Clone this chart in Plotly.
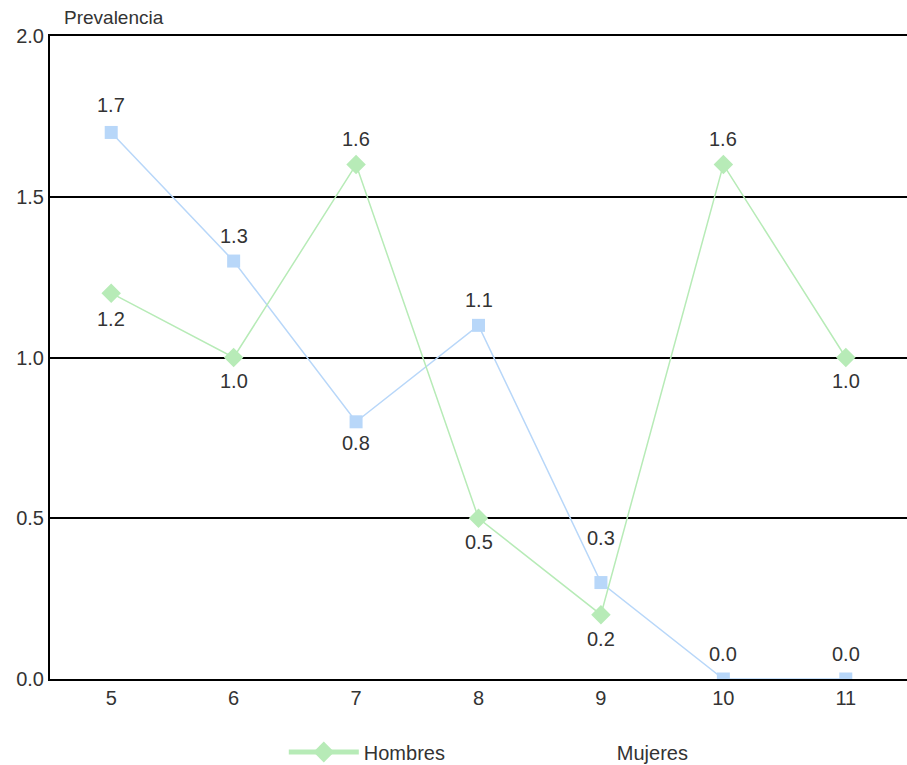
import plotly.graph_objects as go

ages = ["5", "6", "7", "8", "9", "10", "11"]
hombres = [1.2, 1.0, 1.6, 0.5, 0.2, 1.6, 1.0]
mujeres = [1.7, 1.3, 0.8, 1.1, 0.3, 0.0, 0.0]
# label offsets (px, positive = above the point)
hombres_shift = [-26, -23, 26, -24, -24, 26, -23]
mujeres_shift = [27, 25, -21, 25, 45, 25, 25]

green = "#b7ebb7"
blue = "#b8d7f9"
font = "Liberation Sans, Arial, sans-serif"
txt = "#333333"

fig = go.Figure()
fig.add_trace(go.Scatter(
    x=ages, y=mujeres, name="Mujeres", mode="lines+markers",
    line=dict(color=blue, width=1.5),
    marker=dict(symbol="square", size=13, color=blue),
    showlegend=False,
))
fig.add_trace(go.Scatter(
    x=ages, y=hombres, name="Hombres", mode="lines+markers",
    line=dict(color=green, width=1.5),
    marker=dict(symbol="diamond", size=15, color=green),
    showlegend=False,
))
# legend entries
fig.add_trace(go.Scatter(
    x=[None], y=[None], name="Hombres", mode="lines+markers",
    line=dict(color=green, width=5),
    marker=dict(symbol="diamond", size=16, color=green),
))
fig.add_trace(go.Scatter(
    x=[None], y=[None], name="Mujeres", mode="lines",
    line=dict(color="rgba(0,0,0,0)", width=5),
))

annotations = [dict(
    text="Prevalencia", xref="paper", yref="paper", x=0.0135, y=1.0,
    xanchor="left", yanchor="bottom", yshift=6, showarrow=False,
    font=dict(size=19, color=txt),
)]
for ys, shifts in ((mujeres, mujeres_shift), (hombres, hombres_shift)):
    for i, (yv, sh) in enumerate(zip(ys, shifts)):
        annotations.append(dict(
            x=i, y=yv, xref="x", yref="y", text=f"{yv:.1f}", showarrow=False,
            xanchor="center", yanchor="middle", yshift=sh,
            font=dict(size=20, color=txt),
        ))

fig.update_layout(
    width=907, height=765,
    margin=dict(l=50, r=0, t=36, b=86),
    plot_bgcolor="white", paper_bgcolor="white",
    font=dict(family=font, size=18, color=txt),
    xaxis=dict(
        type="category", range=[-0.5, 6.5],
        showline=True, linecolor="black", linewidth=2, mirror=True,
        showgrid=False, ticks="", tickfont=dict(size=20), automargin=False,
    ),
    yaxis=dict(
        range=[0, 2], tickvals=[0, 0.5, 1.0, 1.5, 2.0],
        ticktext=["0.0", "0.5", "1.0", "1.5", "2.0"],
        showline=True, linecolor="black", linewidth=2,
        showgrid=True, gridcolor="black", gridwidth=1.5,
        zeroline=False, ticks="", tickfont=dict(size=20), automargin=False,
    ),
    legend=dict(
        orientation="h", xref="container", yref="container",
        x=0.3129, xanchor="left", y=0.017, yanchor="middle",
        font=dict(size=20), entrywidth=168, itemwidth=70,
    ),
    annotations=annotations,
)

fig.write_html(
    "out.html",
    config={"displayModeBar": False},
    post_script="document.body.style.margin='0';document.body.style.overflow='hidden';",
)
